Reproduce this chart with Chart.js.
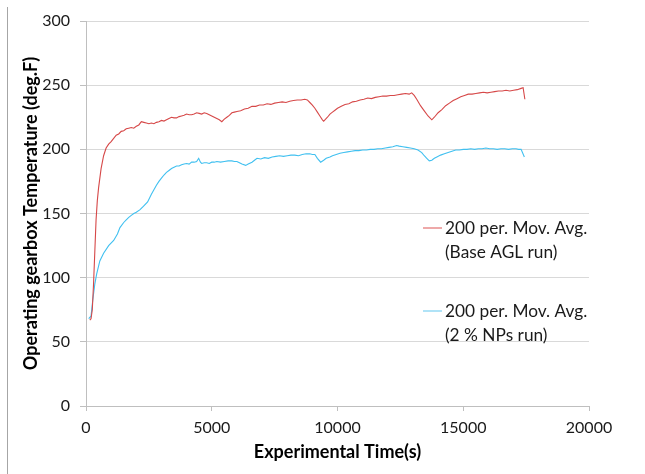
<!DOCTYPE html>
<html>
<head>
<meta charset="utf-8">
<script src="https://cdn.jsdelivr.net/npm/chart.js@4.4.1/dist/chart.umd.min.js"></script>
<style>
  html, body { margin: 0; padding: 0; background: #fff; }
  #wrap { width: 645px; height: 474px; position: relative; }
</style>
</head>
<body>
<div id="wrap"><canvas id="c" width="645" height="474"></canvas></div>
<script>
// Gearbox temperature, 200-period moving averages (time in s, temperature in deg.F)
const timeBase = [
  150, 200, 250, 300, 350, 400, 450, 500, 600, 700,
  800, 900, 1000, 1100, 1200, 1300, 1400, 1500, 1600, 1700,
  1800, 1900, 2000, 2100, 2200, 2300, 2400, 2500, 2600, 2700,
  2800, 2900, 3000, 3100, 3200, 3300, 3400, 3500, 3600, 3700,
  3800, 3900, 4000, 4100, 4200, 4300, 4400, 4500, 4600, 4700,
  4800, 4900, 5000, 5100, 5200, 5300, 5400, 5500, 5600, 5700,
  5800, 5900, 6000, 6150, 6300, 6450, 6600, 6750, 6900, 7050,
  7200, 7350, 7500, 7650, 7800, 7950, 8100, 8250, 8400, 8550,
  8700, 8800, 8900, 9000, 9100, 9200, 9300, 9400, 9450, 9500,
  9600, 9700, 9800, 9900, 10000, 10150, 10300, 10450, 10600, 10750,
  10900, 11050, 11200, 11350, 11500, 11650, 11800, 11950, 12100, 12250,
  12400, 12550, 12700, 12850, 12950, 13050, 13150, 13300, 13450, 13600,
  13750, 13850, 14000, 14150, 14300, 14450, 14600, 14750, 14900, 15050,
  15200, 15350, 15500, 15650, 15800, 15950, 16100, 16250, 16400, 16550,
  16700, 16850, 17000, 17150, 17300, 17380, 17450
];
const tempBase = [
  67, 68, 75, 95, 120, 145, 160, 170, 185, 195,
  201, 204, 206, 208.5, 211, 212, 214, 214.5, 216, 216.5,
  217, 216.5, 218, 219, 221.5, 221, 220.5, 220, 220.5, 220,
  221, 221.5, 222.5, 222, 223, 224, 225, 224.5, 224.5, 225.5,
  226, 226.5, 227.5, 227, 227, 227.5, 228.5, 228, 227.5, 228.5,
  228, 227, 226, 225, 224, 223, 221.5, 223.5, 225, 226.5,
  228.5, 229, 229.5, 230, 231.5, 232, 233.5, 233.5, 234.5, 234.5,
  235.5, 235, 236, 236.5, 237, 236.5, 237.5, 238, 238.5, 238.5,
  239, 238.5, 236.5, 234.5, 232, 229, 226, 223, 222, 223,
  225, 227.5, 229, 230.5, 232, 233.5, 235, 235.5, 237, 237.5,
  238.5, 239, 240, 239.5, 240.5, 241, 241.5, 241.5, 242, 242,
  242.5, 243, 243.5, 243, 244, 242, 239, 234, 230, 226,
  223, 225, 228.5, 231, 234, 236, 238, 239.5, 241, 242,
  243, 243, 243.5, 244, 244.5, 244, 244.5, 245, 245.5, 245.5,
  246, 245.5, 246, 246.5, 247.5, 248, 239
];

const timeNP = [
  107, 200, 266, 350, 425, 550, 700, 900, 1100, 1250,
  1350, 1500, 1600, 1700, 1800, 1900, 2000, 2150, 2300, 2450,
  2600, 2700, 2800, 2900, 3000, 3100, 3200, 3300, 3400, 3500,
  3600, 3700, 3800, 3900, 4000, 4100, 4200, 4300, 4400, 4480,
  4550, 4600, 4700, 4800, 4900, 5000, 5100, 5200, 5350, 5500,
  5650, 5800, 5900, 6000, 6100, 6200, 6350, 6450, 6600, 6700,
  6800, 6950, 7100, 7250, 7400, 7550, 7700, 7850, 8000, 8150,
  8300, 8450, 8600, 8750, 8900, 9000, 9100, 9200, 9330, 9450,
  9550, 9700, 9800, 9950, 10100, 10250, 10400, 10550, 10700, 10850,
  11000, 11150, 11300, 11450, 11600, 11750, 11900, 12050, 12200, 12350,
  12450, 12600, 12750, 12900, 13050, 13200, 13350, 13450, 13550, 13650,
  13750, 13850, 13950, 14100, 14250, 14400, 14550, 14700, 14850, 15000,
  15150, 15300, 15450, 15600, 15750, 15900, 16050, 16200, 16350, 16500,
  16650, 16800, 16950, 17100, 17200, 17300, 17430
];
const tempNP = [
  68, 70, 82, 95, 103, 113, 119, 125, 129, 134,
  139, 143, 145, 147, 148.5, 150, 151, 153, 156, 159,
  165, 168.5, 172, 175, 177.5, 180, 182, 183.5, 185, 186,
  187, 187, 188, 188.5, 189, 188.5, 190, 190, 190.5, 193,
  190, 189, 189.5, 189.5, 189, 190, 190, 190.5, 190, 190.5,
  191, 191, 190.5, 190.5, 189.5, 188.5, 187.5, 188.5, 190, 191.5,
  193, 192.5, 193.5, 193, 194, 194.5, 195, 194.5, 195, 195.5,
  195.5, 195, 196, 196.5, 196.5, 196, 196, 193, 190, 191.5,
  193, 194, 195, 196, 197, 197.5, 198, 198.5, 199, 199,
  199.5, 199.5, 200, 200, 200.5, 200.5, 201, 201.5, 202, 203,
  202.5, 202, 201.5, 201, 200.5, 199.5, 197.5, 195, 193, 191,
  191.5, 193, 194, 195.5, 196.5, 197.5, 198.5, 199.5, 199.5, 200,
  200, 200.5, 200, 200.5, 200.5, 201, 200.5, 200.5, 200, 200.5,
  200.5, 200, 200.5, 200.5, 200, 200, 194
];

const seriesNames = [
  ['200 per. Mov. Avg.', '(Base AGL run)'],
  ['200 per. Mov. Avg.', '(2 % NPs run)']
];
const xTitle = 'Experimental Time(s)';
const yTitle = 'Operating gearbox Temperature (deg.F)';

const FONT = 'Lato, "Open Sans", sans-serif';
const RED = 'rgb(214,72,72)';
const CYAN = 'rgb(64,192,240)';

const toPoints = (xs, ys) => xs.map((x, i) => ({ x: x, y: ys[i] }));

// frame line on the left edge of the figure
const framePlugin = {
  id: 'frame',
  beforeDraw(chart) {
    const ctx = chart.ctx;
    ctx.save();
    ctx.fillStyle = '#fff';
    ctx.fillRect(0, 0, chart.width, chart.height);
    ctx.strokeStyle = '#a6a6a6';
    ctx.lineWidth = 1;
    ctx.beginPath();
    ctx.moveTo(7.5, 7);
    ctx.lineTo(7.5, chart.height);
    ctx.stroke();
    ctx.restore();
  }
};

// two-line legend entries to the right of the curves
const sideLegend = {
  id: 'sideLegend',
  afterDraw(chart) {
    const ctx = chart.ctx;
    const entries = [
      { color: 'rgb(232,140,140)', y: 228, lines: seriesNames[0] },
      { color: 'rgb(150,218,245)', y: 311, lines: seriesNames[1] }
    ];
    ctx.save();
    ctx.font = '17.3px ' + FONT;
    ctx.textBaseline = 'middle';
    ctx.textAlign = 'left';
    entries.forEach(e => {
      ctx.strokeStyle = e.color;
      ctx.lineWidth = 1.5;
      ctx.beginPath();
      ctx.moveTo(423, e.y);
      ctx.lineTo(442, e.y);
      ctx.stroke();
      ctx.fillStyle = '#1a1a1a';
      ctx.fillText(e.lines[0], 445, e.y);
      ctx.fillText(e.lines[1], 445, e.y + 24.5);
    });
    ctx.restore();
  }
};

new Chart(document.getElementById('c'), {
  type: 'line',
  data: {
    datasets: [
      {
        label: seriesNames[0].join(' '),
        data: toPoints(timeBase, tempBase),
        borderColor: RED,
        borderWidth: 1.1,
        pointRadius: 0,
        tension: 0
      },
      {
        label: seriesNames[1].join(' '),
        data: toPoints(timeNP, tempNP),
        borderColor: CYAN,
        borderWidth: 1.1,
        pointRadius: 0,
        tension: 0
      }
    ]
  },
  options: {
    responsive: false,
    animation: false,
    devicePixelRatio: 1,
    layout: { padding: { top: 21, right: 56, left: 0, bottom: 0 } },
    plugins: {
      legend: { display: false },
      tooltip: { enabled: false }
    },
    scales: {
      x: {
        type: 'linear',
        min: 0,
        max: 20000,
        afterFit(s) { s.height = 68; },
        ticks: {
          stepSize: 5000,
          padding: 7,
          color: '#1a1a1a',
          font: { family: FONT, size: 16 },
          callback: v => String(v)
        },
        grid: {
          drawOnChartArea: false,
          drawTicks: true,
          tickLength: 5,
          color: '#bfbfbf'
        },
        border: { color: '#bfbfbf', width: 1 },
        title: {
          display: true,
          text: xTitle,
          color: '#000',
          font: { family: FONT, size: 18, weight: 'bold' },
          padding: { top: 0, bottom: 11 }
        }
      },
      y: {
        min: 0,
        max: 300,
        afterFit(s) { s.width = 86; },
        ticks: {
          stepSize: 50,
          padding: 10,
          color: '#1a1a1a',
          font: { family: FONT, size: 16 },
          callback: v => String(v)
        },
        grid: {
          color: '#d9d9d9',
          lineWidth: 1,
          tickLength: 6,
          tickColor: '#bfbfbf'
        },
        border: { color: '#bfbfbf', width: 1 },
        title: {
          display: true,
          text: yTitle,
          color: '#000',
          font: { family: FONT, size: 18, weight: 'bold' },
          padding: { top: 20, bottom: 0 }
        }
      }
    }
  },
  plugins: [framePlugin, sideLegend]
});
</script>
</body>
</html>
